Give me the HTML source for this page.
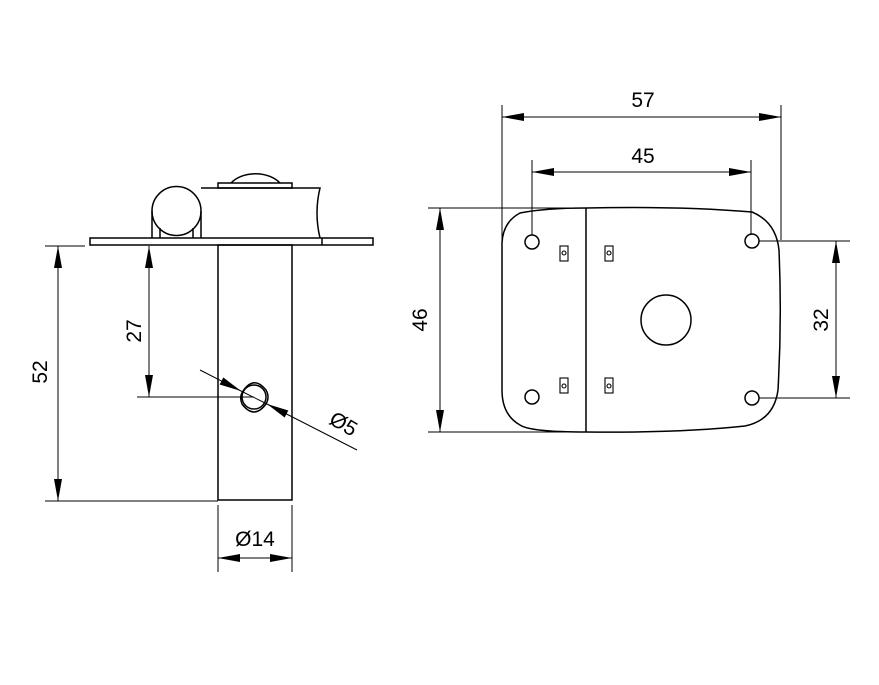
<!DOCTYPE html>
<html><head><style>html,body{margin:0;padding:0;background:#fff}svg{display:block}</style></head><body>
<svg width="879" height="685" viewBox="0 0 879 685" xmlns="http://www.w3.org/2000/svg" font-family="Liberation Sans Narrow, Liberation Sans, sans-serif" font-size="21">
<defs>
<marker id="a" viewBox="0 0 22 8" refX="22" refY="4" markerWidth="22" markerHeight="8" markerUnits="userSpaceOnUse" orient="auto-start-reverse"><path d="M0,0 L22,4 L0,8 Z" fill="#000"/></marker>
</defs>
<g fill="none" stroke="#000" stroke-width="1.5">
<rect x="90" y="238" width="283" height="7" fill="#fff"/>
<line x1="322" y1="238" x2="322" y2="245"/>
<rect x="218" y="245" width="74" height="255"/>
<path d="M201,188 L320,188 Q314,213 320,238"/>
<rect x="218" y="183" width="74" height="5"/>
<path d="M231,183 A30,22 0 0 1 280,183"/>
<circle cx="176.5" cy="211" r="24.5"/>
<line x1="152" y1="211" x2="152" y2="238"/>
<line x1="201" y1="211" x2="201" y2="238"/>
<line x1="160" y1="228" x2="160" y2="238"/>
<line x1="193" y1="228" x2="193" y2="238"/>
<circle cx="254" cy="397" r="12"/>
<path d="M243,391 Q254,375 266,390 Q270,397 266,404 Q254,420 242,404 Q239,397 243,391 Z"/>
</g>
<g stroke="#000" stroke-width="1" fill="none">
<line x1="45" y1="246" x2="85" y2="246"/>
<line x1="45" y1="501" x2="218" y2="501"/>
<line x1="58" y1="246" x2="58" y2="501" marker-start="url(#a)" marker-end="url(#a)"/>
<line x1="137" y1="397" x2="254" y2="397"/>
<line x1="149" y1="246" x2="149" y2="397" marker-start="url(#a)" marker-end="url(#a)"/>
<line x1="200" y1="370" x2="241" y2="391" marker-end="url(#a)"/>
<line x1="357" y1="450" x2="267" y2="404" marker-end="url(#a)"/>
<line x1="241" y1="391" x2="267" y2="404"/>
<line x1="218" y1="505" x2="218" y2="572"/>
<line x1="292" y1="505" x2="292" y2="572"/>
<line x1="218" y1="558" x2="292" y2="558" marker-start="url(#a)" marker-end="url(#a)"/>
<line x1="502" y1="105" x2="502" y2="240"/>
<line x1="781" y1="105" x2="781" y2="240"/>
<line x1="502" y1="117" x2="781" y2="117" marker-start="url(#a)" marker-end="url(#a)"/>
<line x1="532" y1="160" x2="532" y2="235"/>
<line x1="751" y1="160" x2="751" y2="235"/>
<line x1="532" y1="172" x2="751" y2="172" marker-start="url(#a)" marker-end="url(#a)"/>
<line x1="428" y1="208" x2="586" y2="208"/>
<line x1="428" y1="432" x2="586" y2="432"/>
<line x1="440" y1="208" x2="440" y2="432" marker-start="url(#a)" marker-end="url(#a)"/>
<line x1="759" y1="241" x2="850" y2="241"/>
<line x1="759" y1="398" x2="850" y2="398"/>
<line x1="836" y1="241" x2="836" y2="398" marker-start="url(#a)" marker-end="url(#a)"/>
</g>
<g fill="none" stroke="#000" stroke-width="1.5">
<path d="M586,208 Q680,206 752,212 Q776,222 779,250 Q782,320 778,390 Q774,420 745,426 Q680,433 586,432 Q530,432 520,425 Q502,415 502,390 L502,243 Q503,222 520,213 Q545,208 586,208 Z"/>
<line x1="586" y1="208" x2="586" y2="432"/>
<circle cx="532" cy="242" r="7"/>
<circle cx="752" cy="241" r="7"/>
<circle cx="532" cy="397" r="7"/>
<circle cx="752" cy="398" r="7"/>
<circle cx="666" cy="320" r="25"/>
</g>
<g fill="none" stroke="#000" stroke-width="1.1">
<rect x="560" y="246" width="8" height="15"/><circle cx="564" cy="253" r="2"/>
<rect x="605" y="246" width="8" height="15"/><circle cx="609" cy="253" r="2"/>
<rect x="560" y="378" width="8" height="15"/><circle cx="564" cy="386" r="2"/>
<rect x="605" y="378" width="8" height="15"/><circle cx="609" cy="386" r="2"/>
</g>
<g fill="#000" text-anchor="middle">
<text transform="translate(47,372) rotate(-90)">52</text>
<text transform="translate(141,331) rotate(-90)">27</text>
<text transform="translate(340,430) rotate(30)">Ø5</text>
<text x="255" y="546">Ø14</text>
<text x="643" y="107">57</text>
<text x="643" y="163">45</text>
<text transform="translate(427,320) rotate(-90)">46</text>
<text transform="translate(828,320) rotate(-90)">32</text>
</g>
</svg>
</body></html>
